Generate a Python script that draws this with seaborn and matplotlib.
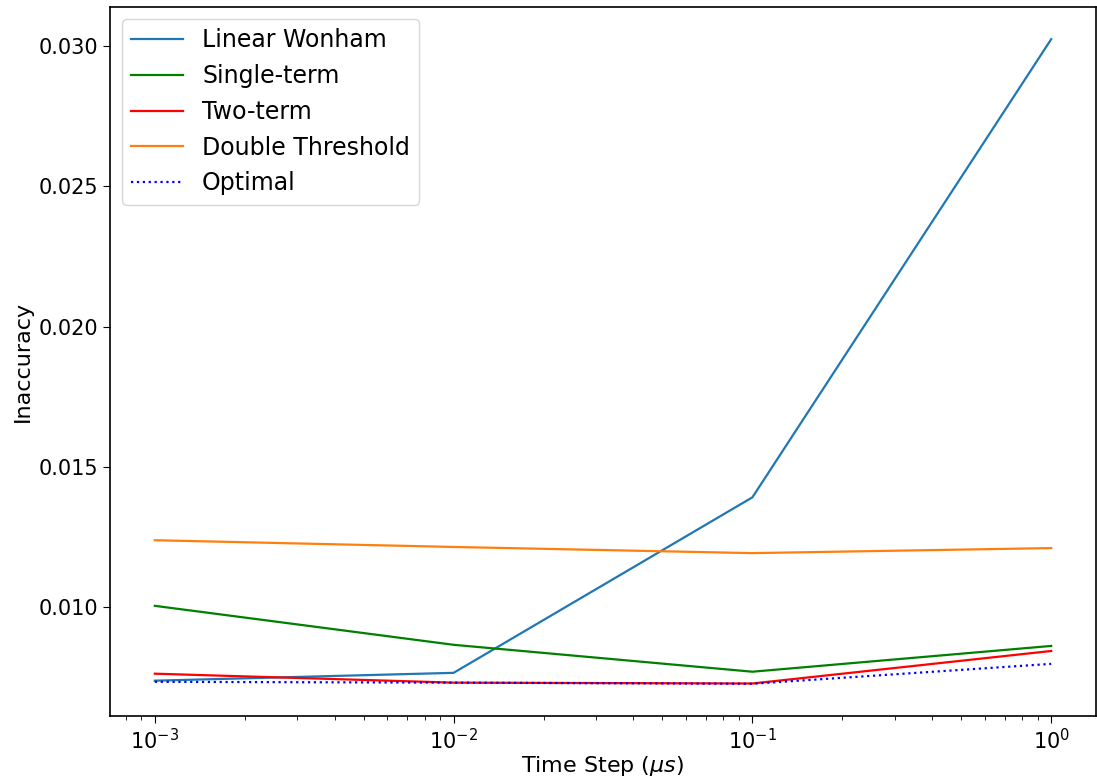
import matplotlib
matplotlib.use("Agg")
import matplotlib.pyplot as plt
import seaborn as sns
import pandas as pd

time_steps = [1e-3, 1e-2, 1e-1, 1.0]
linear_wonham = [0.00737, 0.00765, 0.01391, 0.03025]
single_term = [0.01004, 0.00865, 0.00769, 0.00861]
two_term = [0.00762, 0.00730, 0.00727, 0.00843]
double_threshold = [0.01238, 0.01214, 0.01192, 0.01210]
optimal = [0.00733, 0.00730, 0.00726, 0.00797]

series = [
    ("Linear Wonham", linear_wonham, "#1f77b4", "-"),
    ("Single-term", single_term, "green", "-"),
    ("Two-term", two_term, "red", "-"),
    ("Double Threshold", double_threshold, "#ff7f0e", "-"),
    ("Optimal", optimal, "blue", ":"),
]

plt.rcParams["font.family"] = ["DejaVu Sans"]
fig = plt.figure(figsize=(10.97, 7.80), dpi=100)
ax = fig.add_axes([110 / 1097, 1 - 716 / 780, 986 / 1097, 709 / 780])

for name, vals, color, ls in series:
    df = pd.DataFrame({"t": time_steps, "v": vals})
    sns.lineplot(data=df, x="t", y="v", ax=ax, color=color, linestyle=ls,
                 linewidth=1.6, label=name)

ax.set_xscale("log")
ax.set_xlabel(r"Time Step ($\mu s$)", fontsize=16, labelpad=1)
ax.set_ylabel("Inaccuracy", fontsize=16)
ax.tick_params(axis="both", which="major", labelsize=15, length=5)
ax.tick_params(axis="both", which="minor", length=3)
for s in ax.spines.values():
    s.set_linewidth(1.2)
leg = ax.legend(loc="upper left", fontsize=17, handlelength=2.2)

fig.savefig("out.png", dpi=100)
